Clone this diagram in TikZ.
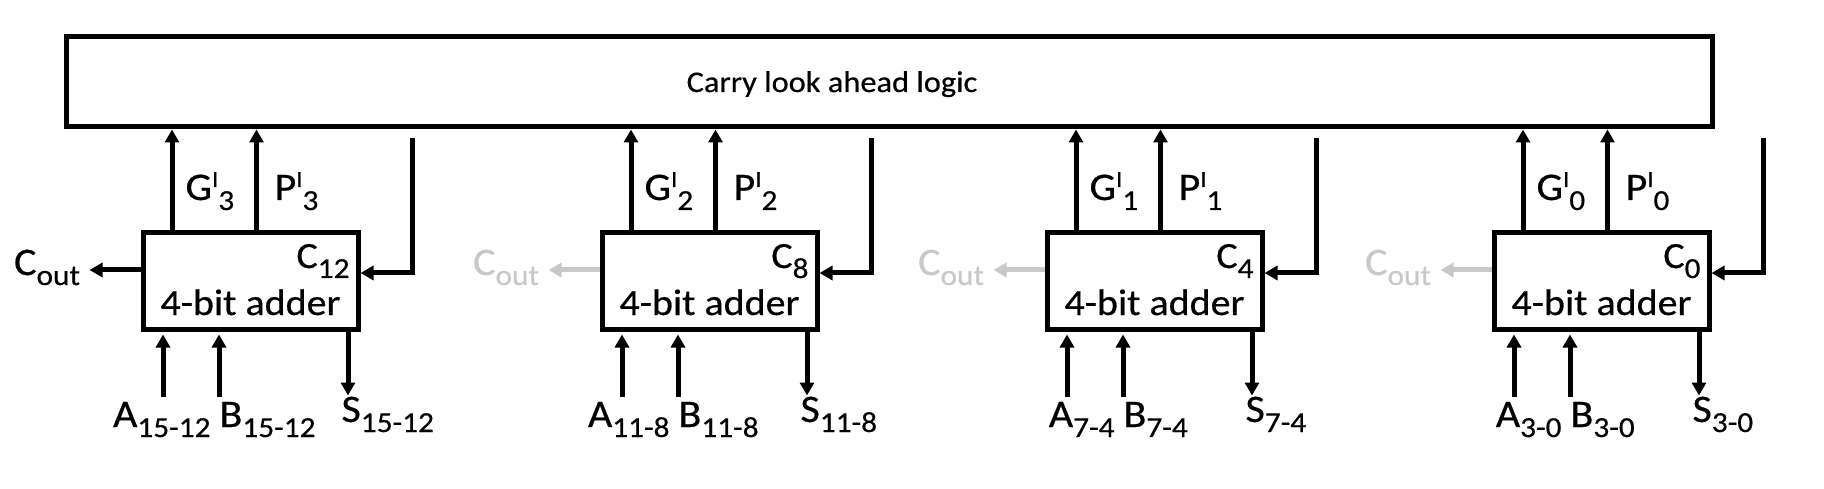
\documentclass[tikz,border=0pt]{standalone}
\usepackage{fontspec}
\setmainfont[FakeStretch=1.08,FakeBold=0.5]{Carlito}
\usetikzlibrary{arrows.meta}
\definecolor{fadegray}{RGB}{200,200,200}
\newcommand{\lsub}[1]{\raisebox{-10pt}{\fontsize{29}{29}\selectfont #1}}
\newcommand{\lsup}[1]{\raisebox{13pt}{\fontsize{23}{23}\selectfont #1}}

\begin{document}
\begin{tikzpicture}[x=1pt,y=-1pt,line width=5pt]
\tikzset{arr/.style={-{Triangle[width=14pt,length=13pt]}},
  adder/.style={draw,minimum width=215pt,minimum height=96pt,inner sep=0pt},
  big/.style={inner sep=0pt,font=\fontsize{39}{39}\selectfont},
  mid/.style={inner sep=0pt,font=\fontsize{37}{37}\selectfont}}
\useasboundingbox (0,0) rectangle (1824,489);
\node[draw,minimum width=1646pt,minimum height=90pt] (cla) at (889,82) {};
\node[inner sep=0pt,font=\fontsize{30}{30}\selectfont,anchor=base] (clatext) at (832,92) {Carry look ahead logic};
\foreach \x/\n/\cc/\rg/\col in {143/3/12/15-12/black,602/2/8/11-8/fadegray,1047/1/4/7-4/fadegray,1494/0/0/3-0/fadegray}{
  \node[adder] (add\n) at (\x+107.5,281) {};
  \node[mid,anchor=base] (name\n) at (\x+107.5,315) {4-bit adder};
  \node[mid,anchor=base east] (clab\n) at (\x+209,268) {C\lsub{\cc}};
  % group signals up to the look ahead logic
  \coordinate (g\n) at ([xshift=31.5pt]add\n.north west);
  \coordinate (p\n) at ([xshift=116pt]add\n.north west);
  \draw[arr] (g\n) -- (g\n |- cla.south);
  \draw[arr] (p\n) -- (p\n |- cla.south);
  \node[big,anchor=base west] (glab\n) at (\x+40,200) {G\lsup{I}\lsub{\n}};
  \node[big,anchor=base west] (plab\n) at (\x+129,200) {P\lsup{I}\lsub{\n}};
  % carry in from the look ahead logic
  \coordinate (ctop\n) at (\x+269,138);
  \draw[arr] (ctop\n) |- ([yshift=8pt]add\n.east);
  % carry out
  \draw[arr,\col] ([yshift=11pt]add\n.west) -- ++(-51,0) coordinate (cotip\n);
  \node[big,text=\col,anchor=base east] (cout\n) at ([xshift=-7pt,yshift=-5pt]cotip\n) {C\lsub{out}};
  % operands and sum
  \coordinate (a\n) at (\x+20,397);
  \coordinate (b\n) at (\x+76,397);
  \draw[arr,shorten >=3pt] (a\n) -- (a\n |- add\n.south);
  \draw[arr,shorten >=3pt] (b\n) -- (b\n |- add\n.south);
  \coordinate (s\n) at ([xshift=207.5pt]add\n.south west);
  \draw[arr] (s\n) -- ++(0,64) coordinate (stip\n);
  \node[big,anchor=base east] (alab\n) at (\x+70,427) {A\lsub{\rg}};
  \node[big,anchor=base west] (blab\n) at (\x+74,427) {B\lsub{\rg}};
  \node[big,anchor=base west] (slab\n) at (\x+196,422) {S\lsub{\rg}};
}
\end{tikzpicture}
\end{document}
